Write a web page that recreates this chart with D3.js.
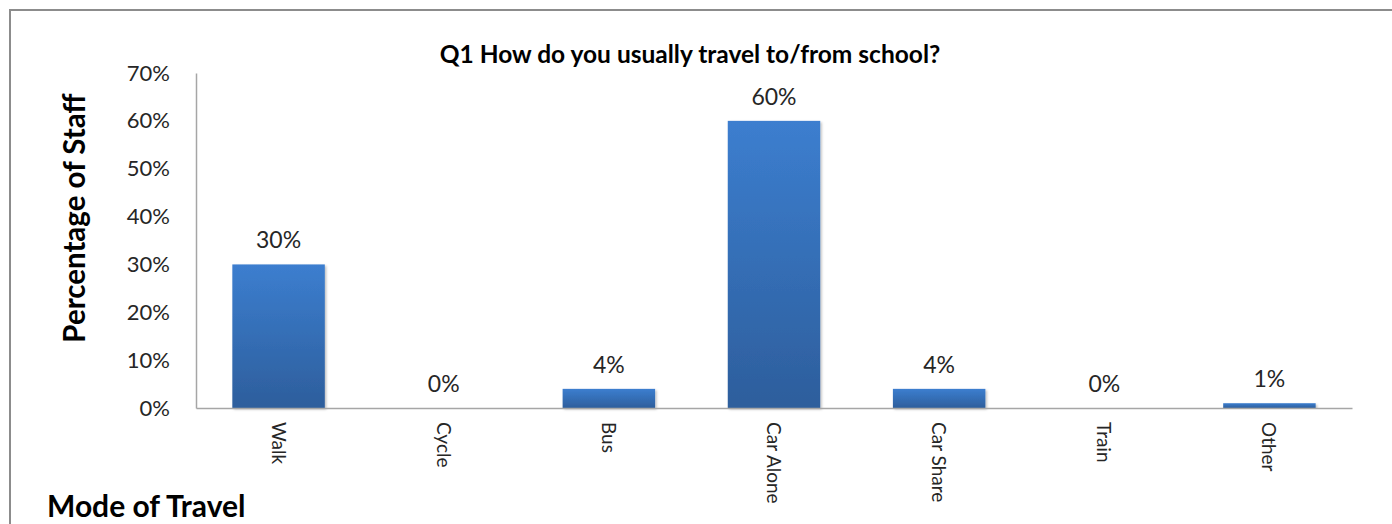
<!DOCTYPE html>
<html>
<head>
<meta charset="utf-8">
<script src="https://cdn.jsdelivr.net/npm/d3@7"></script>
<style>
  html, body { margin: 0; padding: 0; background: #fff; }
  svg { display: block; font-family: Lato, "Open Sans", sans-serif; }
</style>
</head>
<body>
<svg id="chart" width="1392" height="524"></svg>
<script>
// Survey results: travel mode of staff
const categories = ["Walk", "Cycle", "Bus", "Car Alone", "Car Share", "Train", "Other"];
const percentages = [30, 0, 4, 60, 4, 0, 1];
const yTicks = [0, 10, 20, 30, 40, 50, 60, 70];
const chartTitle = "Q1 How do you usually travel to/from school?";
const yTitle = "Percentage of Staff";
const xTitle = "Mode of Travel";

const svg = d3.select("#chart");

// outer frame (extends past the right and bottom edges)
svg.append("rect")
  .attr("x", 10).attr("y", 10)
  .attr("width", 1400).attr("height", 540)
  .attr("fill", "none").attr("stroke", "#8c8c8c").attr("stroke-width", 2);

const plot = { left: 196, right: 1352, top: 73, bottom: 408 };

const x = d3.scaleBand()
  .domain(categories)
  .range([plot.left, plot.right])
  .paddingInner(0.44)
  .paddingOuter(0.22);

const y = d3.scaleLinear()
  .domain([0, 70])
  .range([plot.bottom, plot.top]);

// bar gradient
const defs = svg.append("defs");
const grad = defs.append("linearGradient")
  .attr("id", "barFill").attr("x1", 0).attr("y1", 0).attr("x2", 0).attr("y2", 1);
grad.append("stop").attr("offset", "0%").attr("stop-color", "#3c7ecf");
grad.append("stop").attr("offset", "100%").attr("stop-color", "#2d5e9c");

const shadow = defs.append("filter").attr("id", "barShadow")
  .attr("x", "-10%").attr("y", "-10%").attr("width", "130%").attr("height", "130%");
shadow.append("feDropShadow").attr("dx", 1.5).attr("dy", 1.5).attr("stdDeviation", 1.2)
  .attr("flood-color", "#000").attr("flood-opacity", 0.25);

// y axis
const yAxis = d3.axisLeft(y)
  .tickValues(yTicks)
  .tickSize(0)
  .tickPadding(26)
  .tickFormat(d => d + "%");
const yg = svg.append("g").attr("transform", `translate(${plot.left},0)`).call(yAxis);
yg.select(".domain").attr("stroke", "#a6a6a6").attr("stroke-width", 1.5);
yg.selectAll("text").attr("font-size", 22).attr("fill", "#262626")
  .attr("font-family", "Lato, sans-serif");

// bars
svg.append("g").selectAll("rect")
  .data(categories.map((c, i) => ({ c, v: percentages[i] })))
  .join("rect")
  .attr("x", d => x(d.c))
  .attr("y", d => y(d.v))
  .attr("width", x.bandwidth())
  .attr("height", d => plot.bottom - y(d.v))
  .attr("fill", "url(#barFill)")
  .attr("filter", "url(#barShadow)");

// x axis
const xAxis = d3.axisBottom(x).tickSize(0).tickPadding(0);
const xg = svg.append("g").attr("transform", `translate(0,${plot.bottom})`).call(xAxis);
xg.select(".domain").attr("stroke", "#a6a6a6").attr("stroke-width", 1.5);
xg.selectAll(".tick text")
  .attr("font-size", 19).attr("fill", "#262626")
  .attr("font-family", "Lato, sans-serif")
  .attr("text-anchor", "start")
  .attr("dy", null)
  .attr("y", 0)
  .attr("transform", "translate(-7,14) rotate(90)");

// value labels
svg.append("g").selectAll("text")
  .data(categories.map((c, i) => ({ c, v: percentages[i] })))
  .join("text")
  .attr("x", d => x(d.c) + x.bandwidth() / 2)
  .attr("y", d => y(d.v) - 16)
  .attr("text-anchor", "middle")
  .attr("font-size", 23).attr("fill", "#262626")
  .text(d => d.v + "%");

// titles
svg.append("text")
  .attr("x", 690).attr("y", 63)
  .attr("text-anchor", "middle")
  .attr("font-size", 24.5).attr("font-weight", "bold").attr("fill", "#000")
  .text(chartTitle);

svg.append("text")
  .attr("transform", `translate(85,218) rotate(-90)`)
  .attr("text-anchor", "middle")
  .attr("font-size", 29.5).attr("font-weight", "bold").attr("fill", "#000")
  .text(yTitle);

svg.append("text")
  .attr("x", 47).attr("y", 517)
  .attr("font-size", 30).attr("font-weight", "bold").attr("fill", "#000")
  .text(xTitle);
</script>
</body>
</html>
